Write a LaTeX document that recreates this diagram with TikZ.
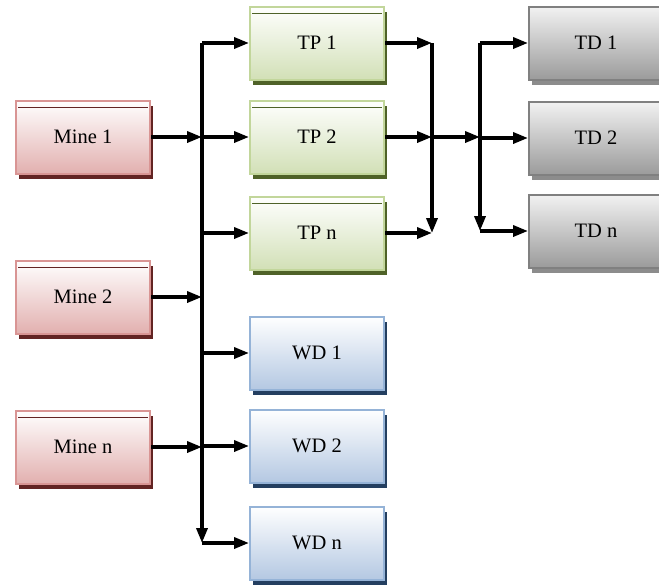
\documentclass[tikz,border=0pt]{standalone}
\usepackage{fontspec}
\setmainfont{Liberation Serif}
\usepackage{tikz}
\usetikzlibrary{arrows.meta,shadows}
\definecolor{mineedge}{RGB}{217,149,148}
\definecolor{minebot}{RGB}{226,176,175}
\definecolor{mineshade}{RGB}{99,36,35}
\definecolor{tpedge}{RGB}{194,214,155}
\definecolor{tpbot}{RGB}{210,224,182}
\definecolor{tpshade}{RGB}{79,98,40}
\definecolor{wdedge}{RGB}{149,179,215}
\definecolor{wdbot}{RGB}{180,200,226}
\definecolor{wdshade}{RGB}{36,63,96}
\definecolor{tdedge}{RGB}{128,128,128}
\definecolor{tdtop}{RGB}{242,242,242}
\definecolor{tdbot}{RGB}{155,155,155}
\definecolor{tdshade}{RGB}{140,140,140}
\tikzset{
  unit/.style={line width=2pt,minimum width=134pt,minimum height=73pt,align=center,
    font=\rmfamily\fontsize{20.5}{24}\selectfont,top color=white},
  topline/.style={path picture={\draw[line width=1pt,#1]
    ([xshift=2pt,yshift=-7pt]path picture bounding box.north west) --
    ([xshift=-2pt,yshift=-7pt]path picture bounding box.north east);}},
  mine/.style={unit,draw=mineedge,bottom color=minebot,topline=mineshade,
    general shadow={fill=mineshade,shadow xshift=3pt,shadow yshift=-5pt}},
  plant/.style={unit,draw=tpedge,bottom color=tpbot,topline=tpshade,
    general shadow={fill=tpshade,shadow xshift=3pt,shadow yshift=-5pt}},
  waste/.style={unit,draw=wdedge,bottom color=wdbot,
    general shadow={fill=wdshade,shadow xshift=3pt,shadow yshift=-5pt}},
  depot/.style={unit,draw=tdedge,top color=tdtop,bottom color=tdbot,
    general shadow={fill=tdshade,shadow xshift=3pt,shadow yshift=-5pt}},
  arr/.style={-{Triangle[length=15pt,width=11pt]},line width=3.4pt}
}
\begin{document}
\begin{tikzpicture}[x=1pt,y=-1pt]
  \useasboundingbox (0,0) rectangle (659,587);
  % sources
  \node[mine] (mine1) at (83,137) {Mine 1};
  \node[mine] (mine2) at (83,297) {Mine 2};
  \node[mine] (minen) at (83,447) {Mine n};
  % plants and waste dumps
  \node[plant] (tp1) at (317,43) {TP 1};
  \node[plant] (tp2) at (317,137) {TP 2};
  \node[plant] (tpn) at (317,233) {TP n};
  \node[waste] (wd1) at (317,353) {WD 1};
  \node[waste] (wd2) at (317,446) {WD 2};
  \node[waste] (wdn) at (317,543) {WD n};
  % destinations
  \node[depot] (td1) at (596,43) {TD 1};
  \node[depot] (td2) at (596,138) {TD 2};
  \node[depot] (tdn) at (596,231) {TD n};
  % buses
  \coordinate (bus) at (202,43);
  \coordinate (join) at (432,43);
  \coordinate (split) at (480,43);
  \draw[arr] (bus) -- (bus |- wdn.west);
  \foreach \m in {mine1,mine2,minen}
    \draw[arr] (\m.east) -- (\m.east -| bus);
  \foreach \t in {tp1,tp2,tpn,wd1,wd2,wdn}
    \draw[arr] (\t.west -| bus) -- (\t.west);
  \draw[arr] (join) -- (join |- tpn.east);
  \foreach \t in {tp1,tp2,tpn}
    \draw[arr] (\t.east) -- (\t.east -| join);
  \draw[arr] (tp2.east -| join) -- (tp2.east -| split);
  \draw[arr] (split) -- (split |- tdn.west);
  \foreach \t in {td1,td2,tdn}
    \draw[arr] (\t.west -| split) -- (\t.west);
\end{tikzpicture}
\end{document}
